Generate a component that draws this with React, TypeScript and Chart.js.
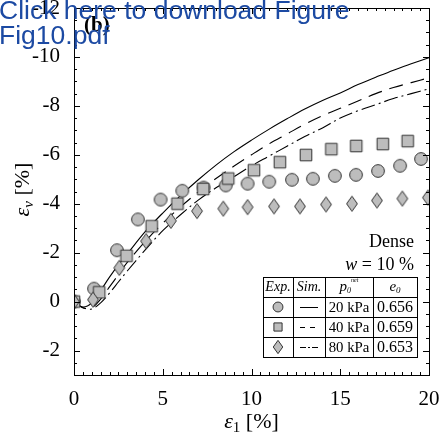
import React, { useEffect, useRef } from 'react';
import { Chart, registerables } from 'chart.js';

Chart.register(...registerables);

// ---- Experimental data (axial strain [%], volumetric strain [%]) ----
const exp20X = [0, 1.13, 2.42, 3.6, 4.88, 6.1, 7.3, 8.55, 9.78, 11.0, 12.28, 13.46, 14.7, 15.89, 17.13, 18.37, 19.55];
const exp20Y = [0, -0.53, -2.1, -3.36, -4.17, -4.53, -4.66, -4.75, -4.82, -4.9, -4.98, -5.02, -5.14, -5.18, -5.34, -5.55, -5.83];

const exp40X = [0, 1.42, 2.96, 4.38, 5.83, 7.28, 8.69, 10.14, 11.6, 13.07, 14.5, 15.9, 17.4, 18.8];
const exp40Y = [0, -0.38, -1.87, -3.08, -4.0, -4.6, -5.03, -5.37, -5.7, -5.99, -6.23, -6.36, -6.44, -6.56];

const exp80X = [0, 1.07, 2.55, 4.06, 5.46, 6.93, 8.41, 9.78, 11.27, 12.73, 14.2, 15.66, 17.07, 18.5, 19.94];
const exp80Y = [0, -0.08, -1.38, -2.47, -3.3, -3.7, -3.8, -3.86, -3.89, -3.89, -3.97, -4.0, -4.13, -4.21, -4.25];

// ---- Simulations ----
const simX = [0, 0.5, 1, 1.5, 2, 2.5, 3, 4, 5, 6, 7, 8, 9, 10, 11, 12, 13, 14, 15, 16, 17, 18, 19, 20];
const sim20Y = [0, 0.22, 0.05, -0.45, -1.0, -1.5, -1.95, -2.85, -3.62, -4.33, -4.98, -5.58, -6.12, -6.6, -7.05, -7.47, -7.87, -8.22, -8.53, -8.87, -9.17, -9.46, -9.72, -9.97];
const sim40Y = [0, 0.25, 0.25, -0.1, -0.6, -1.1, -1.6, -2.45, -3.2, -3.87, -4.48, -5.03, -5.53, -6.0, -6.45, -6.85, -7.25, -7.6, -7.9, -8.2, -8.5, -8.75, -8.95, -9.15];
const sim80Y = [0, 0.25, 0.3, 0.05, -0.35, -0.8, -1.25, -2.1, -2.9, -3.55, -4.15, -4.65, -5.1, -5.55, -5.95, -6.35, -6.75, -7.1, -7.5, -7.8, -8.05, -8.3, -8.5, -8.7];

// ---- Axes ----
const xTickValues = [0, 5, 10, 15, 20];
const xTickLabels = ['0', '5', '10', '15', '20'];
const yTickValues = [-12, -10, -8, -6, -4, -2, 0, 2];
const yTickLabels = ['-12', '-10', '-8', '-6', '-4', '-2', '0', '-2'];

// ---- Legend table ----
const pressures = ['20 kPa', '40 kPa', '80 kPa'];
const voidRatios = ['0.656', '0.659', '0.653'];

const SERIF = '"Liberation Serif", "Times New Roman", serif';
const FILL = '#bdbdbd';
const STROKE = '#333333';
const DASH = [14, 8];
const DASHDOT = [14, 4, 2, 4];

type Seg = { t: string; font: string; dy?: number };

function drawRich(ctx: CanvasRenderingContext2D, segs: Seg[], x: number, y: number, align: 'left' | 'center' | 'right') {
  let w = 0;
  segs.forEach((s) => {
    ctx.font = s.font;
    w += ctx.measureText(s.t).width;
  });
  let cx = align === 'left' ? x : align === 'center' ? x - w / 2 : x - w;
  ctx.textAlign = 'left';
  ctx.textBaseline = 'alphabetic';
  segs.forEach((s) => {
    ctx.font = s.font;
    ctx.fillText(s.t, cx, y + (s.dy || 0));
    cx += ctx.measureText(s.t).width;
  });
}

function drawMarker(ctx: CanvasRenderingContext2D, kind: number, x: number, y: number, s: number) {
  ctx.save();
  ctx.beginPath();
  if (kind === 0) {
    ctx.arc(x, y, 5.2 * s, 0, Math.PI * 2);
  } else if (kind === 1) {
    const h = 4.3 * s;
    ctx.rect(x - h, y - h, 2 * h, 2 * h);
  } else {
    const w = 5 * s;
    const h = 7 * s;
    ctx.moveTo(x, y - h);
    ctx.lineTo(x + w, y);
    ctx.lineTo(x, y + h);
    ctx.lineTo(x - w, y);
    ctx.closePath();
  }
  ctx.fillStyle = FILL;
  ctx.fill();
  ctx.lineWidth = 1;
  ctx.strokeStyle = STROKE;
  ctx.stroke();
  ctx.restore();
}

function markerCanvas(kind: number, s: number) {
  const c = document.createElement('canvas');
  const size = Math.ceil(16 * s) + 2;
  c.width = size;
  c.height = size;
  const g = c.getContext('2d') as CanvasRenderingContext2D;
  drawMarker(g, kind, size / 2, size / 2, s);
  return c;
}

const decorPlugin = {
  id: 'decor',
  afterDraw(chart: any) {
    const ctx: CanvasRenderingContext2D = chart.ctx;
    const { left, right, top, bottom } = chart.chartArea;
    const xs = chart.scales.x;
    const ys = chart.scales.y;
    ctx.save();
    // frame
    ctx.strokeStyle = '#000';
    ctx.lineWidth = 1;
    ctx.strokeRect(Math.round(left) + 0.5, Math.round(top) + 0.5, Math.round(right - left), Math.round(bottom - top));
    // inward ticks
    ctx.beginPath();
    for (let i = 0; i <= 40; i++) {
      const v = i * 0.5;
      const px = Math.round(xs.getPixelForValue(v)) + 0.5;
      const len = i % 10 === 0 ? 6 : 3;
      ctx.moveTo(px, bottom);
      ctx.lineTo(px, bottom - len);
      ctx.moveTo(px, top);
      ctx.lineTo(px, top + len);
    }
    for (let i = 0; i <= 30; i++) {
      const v = -12 + i * 0.5;
      const py = Math.round(ys.getPixelForValue(v)) + 0.5;
      const len = i % 4 === 0 ? 6 : 3;
      ctx.moveTo(left, py);
      ctx.lineTo(left + len, py);
      ctx.moveTo(right, py);
      ctx.lineTo(right - len, py);
    }
    ctx.stroke();

    ctx.fillStyle = '#000';
    // panel label
    drawRich(ctx, [{ t: '(b)', font: `bold 21px ${SERIF}` }], left + 10, top + 23, 'left');

    // axis titles
    drawRich(
      ctx,
      [
        { t: 'ε', font: `italic 22px ${SERIF}` },
        { t: '1', font: `15px ${SERIF}`, dy: 4 },
        { t: ' [%]', font: `22px ${SERIF}` },
      ],
      (left + right) / 2,
      428,
      'center'
    );
    ctx.save();
    ctx.translate(29, (top + bottom) / 2 - 2);
    ctx.rotate(-Math.PI / 2);
    drawRich(
      ctx,
      [
        { t: 'ε', font: `italic 22px ${SERIF}` },
        { t: 'v', font: `italic 15px ${SERIF}`, dy: 4 },
        { t: ' [%]', font: `22px ${SERIF}` },
      ],
      0,
      0,
      'center'
    );
    ctx.restore();

    // annotations
    const tr = right - 15;
    drawRich(ctx, [{ t: 'Dense', font: `18px ${SERIF}` }], tr, 247, 'right');
    drawRich(
      ctx,
      [
        { t: 'w', font: `italic 18px ${SERIF}` },
        { t: ' = 10 %', font: `18px ${SERIF}` },
      ],
      tr,
      270,
      'right'
    );

    // legend table
    const cols = [right - 166, right - 136, right - 104, right - 56, right - 12];
    const rows = [277, 297, 317, 337, 357];
    ctx.beginPath();
    cols.forEach((cx) => {
      ctx.moveTo(Math.round(cx) + 0.5, rows[0]);
      ctx.lineTo(Math.round(cx) + 0.5, rows[rows.length - 1] + 0.5);
    });
    rows.forEach((ry) => {
      ctx.moveTo(cols[0], ry + 0.5);
      ctx.lineTo(cols[cols.length - 1] + 1, ry + 0.5);
    });
    ctx.stroke();
    const mid = (a: number, b: number) => (a + b) / 2;
    const hb = rows[1] - 6;
    drawRich(ctx, [{ t: 'Exp.', font: `italic 14px ${SERIF}` }], mid(cols[0], cols[1]), hb, 'center');
    drawRich(ctx, [{ t: 'Sim.', font: `italic 14px ${SERIF}` }], mid(cols[1], cols[2]), hb, 'center');
    drawRich(
      ctx,
      [
        { t: 'p', font: `italic 15px ${SERIF}` },
        { t: '0', font: `italic 8px ${SERIF}`, dy: 2 },
        { t: 'net', font: `italic 6px ${SERIF}`, dy: -9 },
      ],
      mid(cols[2], cols[3]),
      hb,
      'center'
    );
    drawRich(
      ctx,
      [
        { t: 'e', font: `italic 15px ${SERIF}` },
        { t: '0', font: `italic 9px ${SERIF}`, dy: 2 },
      ],
      mid(cols[3], cols[4]),
      hb,
      'center'
    );
    const dashes = [[], [5, 5], [6, 2, 2, 2]];
    for (let r = 0; r < 3; r++) {
      const cy = mid(rows[r + 1], rows[r + 2]);
      drawMarker(ctx, r, mid(cols[0], cols[1]), cy, 0.95);
      ctx.save();
      ctx.setLineDash(dashes[r]);
      ctx.lineWidth = 1;
      ctx.beginPath();
      const lx = mid(cols[1], cols[2]);
      ctx.moveTo(lx - 9, Math.round(cy) + 0.5);
      ctx.lineTo(lx + 9, Math.round(cy) + 0.5);
      ctx.stroke();
      ctx.restore();
      drawRich(ctx, [{ t: pressures[r], font: `14.8px ${SERIF}` }], mid(cols[2], cols[3]), rows[r + 2] - 5, 'center');
      drawRich(ctx, [{ t: voidRatios[r], font: `16px ${SERIF}` }], mid(cols[3], cols[4]), rows[r + 2] - 5, 'center');
    }
    ctx.restore();
  },
};

export default function App() {
  const ref = useRef<HTMLCanvasElement | null>(null);

  useEffect(() => {
    if (!ref.current) return;
    const pts = (xs: number[], ys: number[]) => xs.map((x, i) => ({ x, y: ys[i] }));
    const markerDs = (xs: number[], ys: number[], kind: number) => ({
      type: 'scatter' as const,
      data: pts(xs, ys),
      showLine: false,
      pointStyle: markerCanvas(kind, kind === 0 ? 1.22 : kind === 1 ? 1.35 : 1.08),
      pointRadius: 7,
    });
    const lineDs = (ys: number[], dash: number[]) => ({
      type: 'line' as const,
      data: pts(simX, ys),
      showLine: true,
      borderColor: '#000',
      borderWidth: 1.1,
      borderDash: dash,
      pointRadius: 0,
      tension: 0.35,
      fill: false,
    });
    const chart = new Chart(ref.current, {
      type: 'scatter',
      data: {
        datasets: [
          markerDs(exp80X, exp80Y, 2),
          markerDs(exp40X, exp40Y, 1),
          markerDs(exp20X, exp20Y, 0),
          lineDs(sim20Y, []),
          lineDs(sim40Y, DASH),
          lineDs(sim80Y, DASHDOT),
        ] as any,
      },
      options: {
        animation: false,
        responsive: false,
        devicePixelRatio: 1,
        layout: { padding: { left: 0, right: 12, top: 5, bottom: 0 } },
        plugins: { legend: { display: false }, tooltip: { enabled: false }, title: { display: false } },
        scales: {
          x: {
            type: 'linear',
            min: 0,
            max: 20,
            grid: { display: false },
            border: { display: false },
            afterBuildTicks: (s: any) => {
              s.ticks = xTickValues.map((v) => ({ value: v }));
            },
            afterFit: (s: any) => {
              s.height = 59;
              s.paddingLeft = 0;
              s.paddingRight = 0;
            },
            ticks: {
              color: '#000',
              padding: 4,
              maxRotation: 0,
              autoSkip: false,
              font: { family: SERIF, size: 21 },
              callback: (v: any) => xTickLabels[xTickValues.indexOf(Number(v))] ?? '',
            },
          },
          y: {
            type: 'linear',
            min: -12,
            max: 3,
            reverse: true,
            grid: { display: false },
            border: { display: false },
            afterBuildTicks: (s: any) => {
              s.ticks = yTickValues.map((v) => ({ value: v }));
            },
            afterFit: (s: any) => {
              s.width = 74;
              s.paddingTop = 0;
              s.paddingBottom = 0;
            },
            ticks: {
              color: '#000',
              padding: 6,
              autoSkip: false,
              font: { family: SERIF, size: 21 },
              callback: (v: any) => yTickLabels[yTickValues.indexOf(Number(v))] ?? '',
            },
          },
        },
      },
      plugins: [decorPlugin],
    });
    return () => chart.destroy();
  }, []);

  return (
    <div style={{ position: 'fixed', left: 0, top: 0, width: 441, height: 434, background: '#fff' }}>
      <canvas ref={ref} width={441} height={434} style={{ display: 'block', width: 441, height: 434 }} />
      <div
        style={{
          position: 'absolute',
          left: -1,
          top: -2.5,
          fontFamily: '"Liberation Sans", Arial, sans-serif',
          fontSize: 26.5,
          lineHeight: '25.5px',
          color: '#1c4aa3',
          whiteSpace: 'pre',
          pointerEvents: 'none',
        }}
      >
        {'Click here to download Figure\nFig10.pdf'}
      </div>
    </div>
  );
}
